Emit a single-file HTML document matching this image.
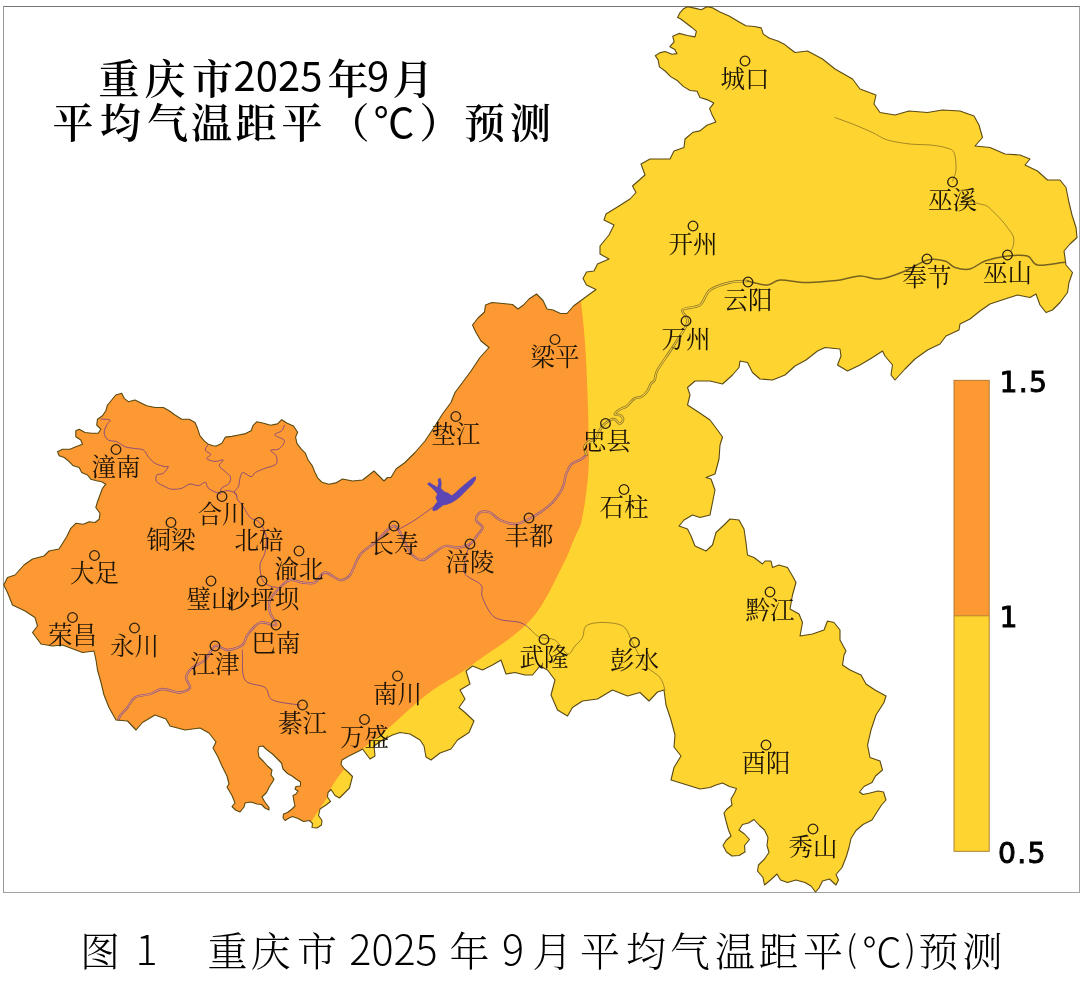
<!DOCTYPE html>
<html lang="zh-CN"><head><meta charset="utf-8"><title>重庆市2025年9月平均气温距平预测</title>
<style>
html,body{margin:0;padding:0;background:#fff;}
body{width:1080px;height:991px;position:relative;overflow:hidden;font-family:"Liberation Sans","Noto Serif CJK SC",serif;}
.frame{position:absolute;left:3px;top:6px;width:1077px;height:887px;border:1px solid #a2a2a2;box-sizing:border-box;border-top-color:#777;border-left-color:#999}
.t{position:absolute;white-space:nowrap;color:#000;line-height:1}
.t span{position:absolute;display:block;text-align:center;line-height:1}
.kai{font-family:"Liberation Serif","Noto Serif CJK SC",serif;}
.num{font-family:"Liberation Sans",sans-serif;}
</style></head><body>
<div class="frame"></div>
<svg width="1080" height="991" viewBox="0 0 1080 991" style="position:absolute;left:0;top:0">
<defs><clipPath id="cq"><polygon points="3.75,585 7.5,577.5 15,575 24,565 32.5,559 44,556 49,551 59,549 66.7,536.7 70.8,528.3 75.8,523.3 83.3,524.2 89.2,521.7 95,522.5 99.2,519.2 100,513.3 95.8,507.5 97.5,501.7 100,495 102.5,488.3 105.8,484.2 101.7,481.7 96.7,480.8 90.8,479.2 87.5,475 81.7,472.5 79.2,467.5 73.3,465.8 69.2,461.7 64.2,457.5 59.2,455.8 57.5,451.7 62.5,449.2 70,449.2 75.8,446.7 82.5,444.2 80.8,440 75.8,436.7 75.8,430.8 79.2,429.2 85,432.5 91.7,433.3 98.3,433.3 100.8,429.2 96.7,425 97.5,419.2 102.5,415.8 105.8,410.8 107.5,405 111.7,400 115.8,395 121.7,393.3 124.2,398.3 128.3,401.7 135,400 140,402.5 146.7,405.8 155,407.5 163.3,407.5 169.2,410.8 175,415 181.7,419.2 189.2,419.2 195,422.5 197.5,428.3 200,435.8 204.2,440.8 208.3,444.2 213.3,445.8 216.4,446.1 221.9,443.3 225.4,437.1 231.7,436.4 238.6,435 245.6,433.6 251.1,430.8 253.2,425.3 256.7,421.8 263.6,423.2 270.6,425.3 277.5,423.9 281.7,419.7 287.2,423.2 293.5,426 297.6,432.2 295.6,437.1 296.9,443.3 301.1,448.9 305.3,453.1 308.1,460 312.2,465.6 315,472.5 317.8,478.1 321.9,482.2 328.9,484.3 335.8,482.9 342.5,479 352.5,481 362.5,480 369,475 374,471 379,476 384,481 387.5,477.5 391,477.5 396,469 405,462.5 415,452.5 425,441 434,427.5 442.5,414 451,402.5 455,392.5 462.5,382.5 471,371 480,357.5 489,347.5 481,341 476,332.5 472.5,325 478,318 484.5,312 485.5,305 492,302.5 503,303.5 512.5,304.5 518,309 523.5,305 529,299 536.5,294 543,300.5 547,309 553,310 560.5,313.5 567,313.5 573.5,306 581,300.5 588.5,295 596,289.5 586.5,285 583,278.5 586.5,272 594,271 597.5,264 609,259 600,254 600,246 609,235 614,225 604,220 606,214 619,206 630,199 636,192.5 632.5,186 645,175 641,164 650,159 670,159 674,151 684,147.5 685,139 692.9,132.3 699.9,130.9 706.9,125.3 715.9,121.9 712.4,115.6 709.6,108.6 713.8,103.1 706.9,99.6 699.9,97.5 697.1,91.2 690.1,90.5 683.2,86.4 677.6,80.8 670.6,76.6 665.1,71 659.5,66.9 658.1,59.9 655.3,55.7 659.5,52.9 665.1,51.5 672,54.3 676.9,53.6 674.8,49.4 669.9,46.7 674.1,41.8 672.7,36.2 679,33.4 687.4,35.5 695,36.9 696.4,31.3 691.5,27.2 686,23 680.4,18.8 677.6,17.4 679.7,13.2 683.2,9.1 687.4,6.7 695.7,8.4 701.3,9.7 706.9,6.7 712.4,7.7 719.4,11.8 729.1,16 737.5,20.9 745.8,25.8 754.2,26.5 761.2,27.9 763.3,34.1 769.5,38.3 777.9,41.1 784.8,44.6 790,48.7 795,52.5 807.5,51 822.5,59 835,69 852.5,79 860,89 876,95 874,104 880,112.5 895,115 909,111 927.5,112.5 942.5,110 960,111 974,116 979,125 982.5,137.5 975,146 990,147.5 1005,154 1020,155 1030,159 1025,165 1037.5,171 1047.5,180 1060,180 1066,187.5 1069,202.5 1072,215 1076,227.5 1077,237.5 1070,244 1064,251 1066,265 1072.5,272.5 1069,282.5 1067.5,292.5 1060,302.5 1052.5,310 1046,312.5 1040,305 1036,294 1030,297.5 1017.5,295 1005,299 990,304 980,311 970,319 960,324 959,330 946,336 940,344 927.5,350 915,359 905,369 895,380 891,375 892.5,365 885,356 882.5,351 872.5,357.5 860,365 847.5,371 837.5,365 841,356 840,349 825,347.5 817.5,351 806,360 795,366 785,375 772.5,380 760,379 752.5,372.5 747.5,362.5 740,361 739,367.5 732.5,375 722.5,384 710,381 695,381 687.5,387.5 690,395 687.5,405 699,412.5 710,420 717.5,430 722.5,437 720,445 719,459 715,474 706,477.5 711,479 715,490 712.5,502.5 710,515 700,517.5 692.5,515 684,520 679,526 687.5,529 691,536 695,546 706,551 712.5,545 716,532.5 724,525 730,519 739,520 744,529 746,542.5 747.5,555 754,557.5 762.5,564 765,561 771,561 772.5,567.5 779,565 787.5,567.5 792.5,576 796,582.5 792.5,595 790,609 799,614 802.5,622.5 800,636 812.5,634 824,630 827.5,621 834,622.5 840,630 840,640 846,651 844,655 842.5,665 850,670 861,675 866,684 875,690 886,696 884,702.5 876,715 871,730 867.5,745 870,757.5 880,761 882.5,770 875.5,776 872,782.5 864,786.5 859.5,792 863,794.5 870,793 878,791 883.5,792 886,800 881.5,805 877,812 872,820 863,824.5 856,830.5 851,838.5 849,847.5 846.5,856 842,867.5 836,874.5 838.5,880 836,885 829.5,879 822.5,881 819,888 815.5,892 811,886 805,882.5 796,880 787.5,882.5 780.5,880 777,874 770.5,880 764.5,885 763,877.5 757.5,871 758.5,865 764.5,859 769,852.5 767,845.5 768,837.5 764.5,830 759.5,825.5 754,819.5 748.5,823 742.5,824.5 739,830 744.5,834 749.5,839.5 744.5,845.5 745,852 739,855.5 732,856 726.5,852 723,845.5 726,840.5 731,836 728.5,830 726,821 724,813 726.5,809.5 732,805 731,799 734.5,793 736.5,788.5 729.5,786.5 722.5,783 716,785 710,787.5 700,789 684,784 671,780 674,767.5 681,756 674,747 675,735 671,720 666,705 664,690 657.5,692 649,701 640,692.5 627.5,696 612.5,690 597.5,699 582.5,701 572.5,707.5 567.5,716 557.5,710 551,695 555,680 547.5,670 540,666 532.5,675 525,675 515,672.5 506,674 501,660 492.5,665 482.5,670 472.5,666 466,671 470,684 460,690 465,699 459,707.5 465,712.5 474,721 469,732.5 457.5,740 451,749 440,753 431,760 426,757 424,746 420,740 410,734 400,732.5 392.5,735 382.5,740 374,746 375,756 370,759 362.5,749 360,750.5 354,753.5 348,756.5 342,760 341,764.5 344.5,769 348,772 352.5,776.5 351,782 349.5,788 345,792.5 339.5,798 335,795.5 331,789.5 328,792.5 327.5,797 330.5,801.5 326,805 320,809 318.5,815.5 322,820.5 321.5,825 317,828 312,827.5 312.5,823.5 309.5,820.5 303.5,821.5 298,818.5 292.5,816.5 289,818 285,820.5 283,818 283.5,814 287.5,812.5 292,809 295,806 294,801.5 293,795.5 296,794 298,791 295,789 296,786.5 300.5,786 300.5,782 296,779 292,776 287.5,773.5 283,769 281.5,763 277,758.5 272.5,754 266.5,749.5 263,746 259,746.5 258,751 259,757 263.5,761.5 267.5,766 272,770 271,775 274,779 272.5,782 269.5,786.5 266.5,792.5 262,797 264.5,801.5 269,807.5 269,810 265,808 261.5,804.5 257,804 251,802 245,803 244,807 240,812 235.5,810 232,806.5 235,803 232,795.5 227,787 229,784 227,776 222,766 218,757 213,748 216,742 209,733 200,728 185,730 170,726 166,719 155,715 142.5,722.5 136,730 127.5,721 116,720 109,707.5 104,695 101,682.5 97.5,670 96,660 94,651 82.5,652.5 62.5,645 52.5,646 41,644 32.5,632.5 37.5,626 35,617.5 25,611 12.5,605 7.5,592.5"/></clipPath></defs>
<polygon points="3.75,585 7.5,577.5 15,575 24,565 32.5,559 44,556 49,551 59,549 66.7,536.7 70.8,528.3 75.8,523.3 83.3,524.2 89.2,521.7 95,522.5 99.2,519.2 100,513.3 95.8,507.5 97.5,501.7 100,495 102.5,488.3 105.8,484.2 101.7,481.7 96.7,480.8 90.8,479.2 87.5,475 81.7,472.5 79.2,467.5 73.3,465.8 69.2,461.7 64.2,457.5 59.2,455.8 57.5,451.7 62.5,449.2 70,449.2 75.8,446.7 82.5,444.2 80.8,440 75.8,436.7 75.8,430.8 79.2,429.2 85,432.5 91.7,433.3 98.3,433.3 100.8,429.2 96.7,425 97.5,419.2 102.5,415.8 105.8,410.8 107.5,405 111.7,400 115.8,395 121.7,393.3 124.2,398.3 128.3,401.7 135,400 140,402.5 146.7,405.8 155,407.5 163.3,407.5 169.2,410.8 175,415 181.7,419.2 189.2,419.2 195,422.5 197.5,428.3 200,435.8 204.2,440.8 208.3,444.2 213.3,445.8 216.4,446.1 221.9,443.3 225.4,437.1 231.7,436.4 238.6,435 245.6,433.6 251.1,430.8 253.2,425.3 256.7,421.8 263.6,423.2 270.6,425.3 277.5,423.9 281.7,419.7 287.2,423.2 293.5,426 297.6,432.2 295.6,437.1 296.9,443.3 301.1,448.9 305.3,453.1 308.1,460 312.2,465.6 315,472.5 317.8,478.1 321.9,482.2 328.9,484.3 335.8,482.9 342.5,479 352.5,481 362.5,480 369,475 374,471 379,476 384,481 387.5,477.5 391,477.5 396,469 405,462.5 415,452.5 425,441 434,427.5 442.5,414 451,402.5 455,392.5 462.5,382.5 471,371 480,357.5 489,347.5 481,341 476,332.5 472.5,325 478,318 484.5,312 485.5,305 492,302.5 503,303.5 512.5,304.5 518,309 523.5,305 529,299 536.5,294 543,300.5 547,309 553,310 560.5,313.5 567,313.5 573.5,306 581,300.5 588.5,295 596,289.5 586.5,285 583,278.5 586.5,272 594,271 597.5,264 609,259 600,254 600,246 609,235 614,225 604,220 606,214 619,206 630,199 636,192.5 632.5,186 645,175 641,164 650,159 670,159 674,151 684,147.5 685,139 692.9,132.3 699.9,130.9 706.9,125.3 715.9,121.9 712.4,115.6 709.6,108.6 713.8,103.1 706.9,99.6 699.9,97.5 697.1,91.2 690.1,90.5 683.2,86.4 677.6,80.8 670.6,76.6 665.1,71 659.5,66.9 658.1,59.9 655.3,55.7 659.5,52.9 665.1,51.5 672,54.3 676.9,53.6 674.8,49.4 669.9,46.7 674.1,41.8 672.7,36.2 679,33.4 687.4,35.5 695,36.9 696.4,31.3 691.5,27.2 686,23 680.4,18.8 677.6,17.4 679.7,13.2 683.2,9.1 687.4,6.7 695.7,8.4 701.3,9.7 706.9,6.7 712.4,7.7 719.4,11.8 729.1,16 737.5,20.9 745.8,25.8 754.2,26.5 761.2,27.9 763.3,34.1 769.5,38.3 777.9,41.1 784.8,44.6 790,48.7 795,52.5 807.5,51 822.5,59 835,69 852.5,79 860,89 876,95 874,104 880,112.5 895,115 909,111 927.5,112.5 942.5,110 960,111 974,116 979,125 982.5,137.5 975,146 990,147.5 1005,154 1020,155 1030,159 1025,165 1037.5,171 1047.5,180 1060,180 1066,187.5 1069,202.5 1072,215 1076,227.5 1077,237.5 1070,244 1064,251 1066,265 1072.5,272.5 1069,282.5 1067.5,292.5 1060,302.5 1052.5,310 1046,312.5 1040,305 1036,294 1030,297.5 1017.5,295 1005,299 990,304 980,311 970,319 960,324 959,330 946,336 940,344 927.5,350 915,359 905,369 895,380 891,375 892.5,365 885,356 882.5,351 872.5,357.5 860,365 847.5,371 837.5,365 841,356 840,349 825,347.5 817.5,351 806,360 795,366 785,375 772.5,380 760,379 752.5,372.5 747.5,362.5 740,361 739,367.5 732.5,375 722.5,384 710,381 695,381 687.5,387.5 690,395 687.5,405 699,412.5 710,420 717.5,430 722.5,437 720,445 719,459 715,474 706,477.5 711,479 715,490 712.5,502.5 710,515 700,517.5 692.5,515 684,520 679,526 687.5,529 691,536 695,546 706,551 712.5,545 716,532.5 724,525 730,519 739,520 744,529 746,542.5 747.5,555 754,557.5 762.5,564 765,561 771,561 772.5,567.5 779,565 787.5,567.5 792.5,576 796,582.5 792.5,595 790,609 799,614 802.5,622.5 800,636 812.5,634 824,630 827.5,621 834,622.5 840,630 840,640 846,651 844,655 842.5,665 850,670 861,675 866,684 875,690 886,696 884,702.5 876,715 871,730 867.5,745 870,757.5 880,761 882.5,770 875.5,776 872,782.5 864,786.5 859.5,792 863,794.5 870,793 878,791 883.5,792 886,800 881.5,805 877,812 872,820 863,824.5 856,830.5 851,838.5 849,847.5 846.5,856 842,867.5 836,874.5 838.5,880 836,885 829.5,879 822.5,881 819,888 815.5,892 811,886 805,882.5 796,880 787.5,882.5 780.5,880 777,874 770.5,880 764.5,885 763,877.5 757.5,871 758.5,865 764.5,859 769,852.5 767,845.5 768,837.5 764.5,830 759.5,825.5 754,819.5 748.5,823 742.5,824.5 739,830 744.5,834 749.5,839.5 744.5,845.5 745,852 739,855.5 732,856 726.5,852 723,845.5 726,840.5 731,836 728.5,830 726,821 724,813 726.5,809.5 732,805 731,799 734.5,793 736.5,788.5 729.5,786.5 722.5,783 716,785 710,787.5 700,789 684,784 671,780 674,767.5 681,756 674,747 675,735 671,720 666,705 664,690 657.5,692 649,701 640,692.5 627.5,696 612.5,690 597.5,699 582.5,701 572.5,707.5 567.5,716 557.5,710 551,695 555,680 547.5,670 540,666 532.5,675 525,675 515,672.5 506,674 501,660 492.5,665 482.5,670 472.5,666 466,671 470,684 460,690 465,699 459,707.5 465,712.5 474,721 469,732.5 457.5,740 451,749 440,753 431,760 426,757 424,746 420,740 410,734 400,732.5 392.5,735 382.5,740 374,746 375,756 370,759 362.5,749 360,750.5 354,753.5 348,756.5 342,760 341,764.5 344.5,769 348,772 352.5,776.5 351,782 349.5,788 345,792.5 339.5,798 335,795.5 331,789.5 328,792.5 327.5,797 330.5,801.5 326,805 320,809 318.5,815.5 322,820.5 321.5,825 317,828 312,827.5 312.5,823.5 309.5,820.5 303.5,821.5 298,818.5 292.5,816.5 289,818 285,820.5 283,818 283.5,814 287.5,812.5 292,809 295,806 294,801.5 293,795.5 296,794 298,791 295,789 296,786.5 300.5,786 300.5,782 296,779 292,776 287.5,773.5 283,769 281.5,763 277,758.5 272.5,754 266.5,749.5 263,746 259,746.5 258,751 259,757 263.5,761.5 267.5,766 272,770 271,775 274,779 272.5,782 269.5,786.5 266.5,792.5 262,797 264.5,801.5 269,807.5 269,810 265,808 261.5,804.5 257,804 251,802 245,803 244,807 240,812 235.5,810 232,806.5 235,803 232,795.5 227,787 229,784 227,776 222,766 218,757 213,748 216,742 209,733 200,728 185,730 170,726 166,719 155,715 142.5,722.5 136,730 127.5,721 116,720 109,707.5 104,695 101,682.5 97.5,670 96,660 94,651 82.5,652.5 62.5,645 52.5,646 41,644 32.5,632.5 37.5,626 35,617.5 25,611 12.5,605 7.5,592.5" fill="#FED430"/>
<path clip-path="url(#cq)" fill="#FD9932" d="M578.0,290.0 C578.5,292.2 580.1,297.2 581.0,303.0 C581.9,308.8 582.8,317.2 583.5,325.0 C584.2,332.8 584.9,340.7 585.5,350.0 C586.1,359.3 586.6,371.2 587.0,381.0 C587.4,390.8 587.7,400.0 588.0,409.0 C588.3,418.0 588.4,427.3 588.6,435.0 C588.8,442.7 589.0,449.2 589.0,455.0 C589.0,460.8 588.8,464.8 588.5,470.0 C588.2,475.2 587.7,480.2 587.0,486.0 C586.3,491.8 585.4,499.3 584.5,505.0 C583.6,510.7 582.5,516.3 581.7,520.0 C580.9,523.7 581.0,524.0 579.8,527.0 C578.6,530.0 576.5,533.3 574.4,538.2 C572.3,543.1 569.8,550.2 567.1,556.3 C564.4,562.3 561.0,568.5 558.0,574.5 C555.0,580.5 552.3,586.6 549.0,592.6 C545.7,598.6 541.9,605.3 538.0,610.8 C534.1,616.2 529.6,621.1 525.4,625.3 C521.2,629.5 517.8,632.2 512.6,636.2 C507.5,640.2 500.6,644.8 494.5,649.0 C488.4,653.2 482.4,657.5 476.3,661.7 C470.2,665.9 464.2,670.5 458.2,674.4 C452.1,678.3 446.4,681.0 440.0,685.3 C433.6,689.6 428.8,692.7 420.0,700.0 C411.2,707.3 395.5,722.2 387.5,729.0 C379.5,735.8 376.6,737.2 372.0,741.0 C367.4,744.8 365.0,746.8 360.0,752.0 C355.0,757.2 346.7,766.2 342.0,772.0 C337.3,777.8 334.4,782.3 332.0,786.5 C329.6,790.7 329.2,793.8 327.5,797.0 C325.8,800.2 323.5,803.0 321.5,806.0 C319.5,809.0 317.2,812.3 315.5,815.0 C313.8,817.7 313.6,817.8 311.0,822.0 C308.4,826.2 301.8,837.0 300.0,840.0 L0,845 L0,290 Z"/>
<g clip-path="url(#cq)" fill="none" stroke-linejoin="round" stroke-linecap="round">
<path d="M118.0,722.0 C118.3,721.0 118.4,718.4 120.0,716.0 C121.6,713.6 125.0,710.6 127.5,707.5 C130.0,704.4 131.2,699.8 135.0,697.5 C138.8,695.2 145.4,695.4 150.0,694.0 C154.6,692.6 157.5,689.2 162.5,689.0 C167.5,688.8 175.4,692.8 180.0,692.5 C184.6,692.2 189.0,690.0 190.0,687.5 C191.0,685.0 185.6,680.8 186.0,677.5 C186.4,674.2 189.3,670.4 192.5,667.5 C195.7,664.6 201.2,663.6 205.0,660.0 C208.8,656.4 211.2,647.7 215.0,646.0 C218.8,644.3 222.9,650.2 227.5,650.0 C232.1,649.8 239.2,647.5 242.5,645.0 C245.8,642.5 244.6,638.8 247.5,635.0 C250.4,631.2 255.2,624.2 260.0,622.5 C264.8,620.8 274.3,626.7 276.0,625.0 C277.7,623.3 271.0,616.7 270.0,612.5 C269.0,608.3 268.3,604.2 270.0,600.0 C271.7,595.8 276.7,590.8 280.0,587.5 C283.3,584.2 286.2,580.8 290.0,580.0 C293.8,579.2 298.3,582.1 302.5,582.5 C306.7,582.9 311.2,584.2 315.0,582.5 C318.8,580.8 320.8,572.9 325.0,572.5 C329.2,572.1 335.8,579.6 340.0,580.0 C344.2,580.4 346.7,579.2 350.0,575.0 C353.3,570.8 355.8,560.4 360.0,555.0 C364.2,549.6 369.3,547.3 375.0,542.5 C380.7,537.7 389.0,526.0 394.0,526.0 C399.0,526.0 401.9,537.7 405.0,542.5 C408.1,547.3 409.6,552.1 412.5,555.0 C415.4,557.9 419.2,560.2 422.5,560.0 C425.8,559.8 428.8,556.3 432.5,554.0 C436.2,551.7 440.8,547.1 445.0,546.0 C449.2,544.9 453.3,547.8 457.5,547.5 C461.7,547.2 466.7,546.1 470.0,544.0 C473.3,541.9 475.4,537.8 477.5,535.0 C479.6,532.2 482.8,530.0 482.5,527.5 C482.2,525.0 476.4,522.5 476.0,520.0 C475.6,517.5 477.7,513.8 480.0,512.5 C482.3,511.2 486.7,511.2 490.0,512.5 C493.3,513.8 495.8,518.1 500.0,520.0 C504.2,521.9 510.2,524.2 515.0,524.0 C519.8,523.8 524.8,520.9 529.0,519.0 C533.2,517.1 536.1,515.2 540.0,512.5 C543.9,509.8 549.1,505.9 552.5,502.5 C555.9,499.1 558.5,495.1 560.4,492.0 C562.3,488.9 563.1,486.6 564.0,483.6 C564.9,480.7 564.7,477.6 566.0,474.3 C567.3,471.0 569.1,466.5 571.6,464.0 C574.1,461.5 578.4,460.9 580.9,459.4 C583.4,457.9 585.5,455.6 586.4,454.8" stroke="#7a4a90" stroke-opacity=".85" stroke-width="2.3"/>
<path d="M118.0,722.0 C118.3,721.0 118.4,718.4 120.0,716.0 C121.6,713.6 125.0,710.6 127.5,707.5 C130.0,704.4 131.2,699.8 135.0,697.5 C138.8,695.2 145.4,695.4 150.0,694.0 C154.6,692.6 157.5,689.2 162.5,689.0 C167.5,688.8 175.4,692.8 180.0,692.5 C184.6,692.2 189.0,690.0 190.0,687.5 C191.0,685.0 185.6,680.8 186.0,677.5 C186.4,674.2 189.3,670.4 192.5,667.5 C195.7,664.6 201.2,663.6 205.0,660.0 C208.8,656.4 211.2,647.7 215.0,646.0 C218.8,644.3 222.9,650.2 227.5,650.0 C232.1,649.8 239.2,647.5 242.5,645.0 C245.8,642.5 244.6,638.8 247.5,635.0 C250.4,631.2 255.2,624.2 260.0,622.5 C264.8,620.8 274.3,626.7 276.0,625.0 C277.7,623.3 271.0,616.7 270.0,612.5 C269.0,608.3 268.3,604.2 270.0,600.0 C271.7,595.8 276.7,590.8 280.0,587.5 C283.3,584.2 286.2,580.8 290.0,580.0 C293.8,579.2 298.3,582.1 302.5,582.5 C306.7,582.9 311.2,584.2 315.0,582.5 C318.8,580.8 320.8,572.9 325.0,572.5 C329.2,572.1 335.8,579.6 340.0,580.0 C344.2,580.4 346.7,579.2 350.0,575.0 C353.3,570.8 355.8,560.4 360.0,555.0 C364.2,549.6 369.3,547.3 375.0,542.5 C380.7,537.7 389.0,526.0 394.0,526.0 C399.0,526.0 401.9,537.7 405.0,542.5 C408.1,547.3 409.6,552.1 412.5,555.0 C415.4,557.9 419.2,560.2 422.5,560.0 C425.8,559.8 428.8,556.3 432.5,554.0 C436.2,551.7 440.8,547.1 445.0,546.0 C449.2,544.9 453.3,547.8 457.5,547.5 C461.7,547.2 466.7,546.1 470.0,544.0 C473.3,541.9 475.4,537.8 477.5,535.0 C479.6,532.2 482.8,530.0 482.5,527.5 C482.2,525.0 476.4,522.5 476.0,520.0 C475.6,517.5 477.7,513.8 480.0,512.5 C482.3,511.2 486.7,511.2 490.0,512.5 C493.3,513.8 495.8,518.1 500.0,520.0 C504.2,521.9 510.2,524.2 515.0,524.0 C519.8,523.8 524.8,520.9 529.0,519.0 C533.2,517.1 536.1,515.2 540.0,512.5 C543.9,509.8 549.1,505.9 552.5,502.5 C555.9,499.1 558.5,495.1 560.4,492.0 C562.3,488.9 563.1,486.6 564.0,483.6 C564.9,480.7 564.7,477.6 566.0,474.3 C567.3,471.0 569.1,466.5 571.6,464.0 C574.1,461.5 578.4,460.9 580.9,459.4 C583.4,457.9 585.5,455.6 586.4,454.8" stroke="#f59a5a" stroke-width="1"/>
<path d="M586.4,454.8 C586.1,453.4 584.0,448.7 584.6,446.4 C585.2,444.1 588.1,442.2 590.0,441.0 C591.9,439.8 594.1,440.7 595.7,439.0 C597.3,437.3 597.8,433.2 599.4,430.6 C601.0,428.0 603.1,425.0 605.5,423.1 C607.9,421.2 611.6,418.9 613.9,419.0 C616.2,419.1 617.9,423.5 619.4,423.6 C620.9,423.8 622.9,421.3 623.1,419.9 C623.3,418.5 621.8,416.2 620.4,415.3 C619.0,414.4 615.0,415.3 614.8,414.4 C614.6,413.5 617.4,411.1 619.4,409.7 C621.4,408.3 624.4,407.9 626.9,406.0 C629.4,404.1 631.8,400.2 634.3,398.6 C636.8,397.1 639.5,397.9 641.7,396.7 C643.9,395.4 645.8,393.3 647.3,391.1 C648.8,388.9 649.8,385.6 651.0,383.7 C652.2,381.8 653.6,382.3 654.7,380.0 C655.8,377.7 654.5,375.4 657.5,370.0 C660.5,364.6 667.5,355.4 672.5,347.5 C677.5,339.6 685.8,328.8 687.5,322.5 C689.2,316.2 680.4,312.9 682.5,310.0 C684.6,307.1 695.4,308.3 700.0,305.0 C704.6,301.7 705.0,293.8 710.0,290.0 C715.0,286.2 723.8,284.0 730.0,282.5 C736.2,281.0 744.6,281.2 747.5,281.0" stroke="#6e5e22" stroke-opacity=".85" stroke-width="2.5"/>
<path d="M586.4,454.8 C586.1,453.4 584.0,448.7 584.6,446.4 C585.2,444.1 588.1,442.2 590.0,441.0 C591.9,439.8 594.1,440.7 595.7,439.0 C597.3,437.3 597.8,433.2 599.4,430.6 C601.0,428.0 603.1,425.0 605.5,423.1 C607.9,421.2 611.6,418.9 613.9,419.0 C616.2,419.1 617.9,423.5 619.4,423.6 C620.9,423.8 622.9,421.3 623.1,419.9 C623.3,418.5 621.8,416.2 620.4,415.3 C619.0,414.4 615.0,415.3 614.8,414.4 C614.6,413.5 617.4,411.1 619.4,409.7 C621.4,408.3 624.4,407.9 626.9,406.0 C629.4,404.1 631.8,400.2 634.3,398.6 C636.8,397.1 639.5,397.9 641.7,396.7 C643.9,395.4 645.8,393.3 647.3,391.1 C648.8,388.9 649.8,385.6 651.0,383.7 C652.2,381.8 653.6,382.3 654.7,380.0 C655.8,377.7 654.5,375.4 657.5,370.0 C660.5,364.6 667.5,355.4 672.5,347.5 C677.5,339.6 685.8,328.8 687.5,322.5 C689.2,316.2 680.4,312.9 682.5,310.0 C684.6,307.1 695.4,308.3 700.0,305.0 C704.6,301.7 705.0,293.8 710.0,290.0 C715.0,286.2 723.8,284.0 730.0,282.5 C736.2,281.0 744.6,281.2 747.5,281.0" stroke="#f4cc3c" stroke-width="1.1"/>
<path d="M747.5,281.0 C750.8,281.7 762.1,285.2 767.5,285.0 C772.9,284.8 773.8,280.4 780.0,280.0 C786.2,279.6 796.7,282.3 805.0,282.5 C813.3,282.7 824.2,281.4 830.0,281.0 C835.8,280.6 835.0,280.8 840.0,280.0 C845.0,279.2 853.3,276.2 860.0,276.0 C866.7,275.8 872.5,279.8 880.0,279.0 C887.5,278.2 897.1,274.2 905.0,271.0 C912.9,267.8 920.8,261.7 927.5,260.0 C934.2,258.3 940.4,259.8 945.0,261.0 C949.6,262.2 950.8,266.2 955.0,267.5 C959.2,268.8 965.0,270.1 970.0,269.0 C975.0,267.9 978.8,263.2 985.0,261.0 C991.2,258.8 1000.4,256.8 1007.5,256.0 C1014.6,255.2 1022.5,254.5 1027.5,256.0 C1032.5,257.5 1031.7,263.9 1037.5,265.0 C1043.3,266.1 1057.4,263.0 1062.5,262.5 C1067.6,262.0 1067.1,262.1 1068.0,262.0" stroke="#5e4e1c" stroke-opacity=".85" stroke-width="1.5"/>
<path d="M208.0,444.7 C207.6,445.6 204.8,448.7 205.3,450.3 C205.8,451.9 210.6,453.0 210.8,454.4 C211.0,455.8 206.0,457.4 206.7,458.6 C207.4,459.8 212.2,461.2 215.0,461.4 C217.8,461.6 222.6,459.3 223.3,460.0 C224.0,460.7 219.0,463.8 219.2,465.6 C219.4,467.5 222.8,469.2 224.7,471.1 C226.5,473.0 229.6,474.6 230.3,476.7 C231.0,478.8 230.3,481.8 228.9,483.6 C227.5,485.5 223.2,486.4 221.9,487.8 C220.6,489.2 220.1,491.5 221.0,492.0 C221.9,492.5 225.0,490.4 227.5,490.6 C230.0,490.8 234.2,491.9 235.8,493.3 C237.4,494.7 236.0,496.8 237.2,498.9 C238.4,501.0 241.2,503.5 242.8,505.8 C244.4,508.1 245.5,510.7 246.9,512.8 C248.3,514.9 249.1,516.8 251.1,518.3 C253.1,519.8 256.3,519.0 258.8,521.8 C261.2,524.6 265.0,529.9 266.0,535.0 C267.0,540.1 266.0,547.5 265.0,552.5 C264.0,557.5 260.4,560.4 260.0,565.0 C259.6,569.6 260.8,576.5 262.5,580.0 C264.2,583.5 267.5,584.8 270.0,586.0 C272.5,587.2 276.2,587.2 277.5,587.5" stroke="#7c4282" stroke-opacity=".85" stroke-width="1"/>
<path d="M100.8,419.2 C102.3,419.3 109.0,419.0 110.0,420.0 C111.0,421.0 107.7,422.8 106.7,425.0 C105.7,427.2 103.9,430.8 104.2,433.3 C104.5,435.8 106.2,438.6 108.3,440.0 C110.4,441.4 113.9,440.6 116.7,441.7 C119.5,442.8 122.2,445.6 125.0,446.7 C127.8,447.8 130.2,447.8 133.3,448.3 C136.4,448.9 140.8,448.6 143.3,450.0 C145.8,451.4 146.4,454.5 148.3,456.7 C150.2,458.9 152.2,461.6 155.0,463.3 C157.8,465.0 162.8,466.1 165.0,466.7 C167.2,467.3 168.6,465.6 168.3,466.7 C168.0,467.8 165.2,471.9 163.3,473.3 C161.4,474.7 157.8,473.6 156.7,475.0 C155.6,476.4 155.3,479.8 156.7,481.7 C158.1,483.6 162.5,485.4 165.0,486.7 C167.5,487.9 168.9,488.9 171.7,489.2 C174.5,489.5 178.6,489.2 181.7,488.3 C184.8,487.4 187.2,484.4 190.0,484.0 C192.8,483.6 195.8,486.0 198.3,485.7 C200.9,485.4 203.7,481.8 205.3,482.2 C206.9,482.6 206.4,486.2 208.0,487.8 C209.6,489.4 212.8,490.9 215.0,491.9 C217.2,492.9 220.0,493.6 221.0,494.0" stroke="#7c4282" stroke-opacity=".85" stroke-width="1"/>
<path d="M284.4,425.3 C283.9,426.2 283.3,429.2 281.7,430.8 C280.1,432.4 274.2,433.4 274.7,435.0 C275.1,436.6 283.7,438.3 284.4,440.6 C285.1,442.9 281.2,447.3 278.9,448.9 C276.6,450.5 271.1,449.1 270.6,450.3 C270.1,451.5 275.2,453.5 276.1,455.8 C277.0,458.1 278.0,462.1 276.1,464.2 C274.2,466.3 268.5,466.9 265.0,468.3 C261.5,469.7 257.6,471.1 255.3,472.5 C253.0,473.9 253.2,476.7 251.1,476.7 C249.0,476.7 244.7,472.3 242.8,472.5 C241.0,472.7 240.7,475.8 240.0,478.1 C239.3,480.4 239.5,484.1 238.6,486.4 C237.7,488.7 234.6,490.3 234.4,491.9 C234.2,493.5 236.7,495.4 237.2,496.1" stroke="#7c4282" stroke-opacity=".85" stroke-width="1"/>
<path d="M242.5,650.0 C242.5,650.8 242.1,650.0 242.5,655.0 C242.9,660.0 241.2,674.6 245.0,680.0 C248.8,685.4 260.4,684.2 265.0,687.5 C269.6,690.8 266.7,697.1 272.5,700.0 C278.3,702.9 295.4,704.2 300.0,705.0" stroke="#7c4282" stroke-opacity=".85" stroke-width="1"/>
<path d="M397.5,530.0 C400.4,528.3 409.2,523.8 415.0,520.0 C420.8,516.2 428.3,510.3 432.5,507.5 C436.7,504.7 438.8,503.8 440.0,503.0" stroke="#7c4282" stroke-opacity=".85" stroke-width="1"/>
<path d="M470.0,544.0 C469.2,546.7 465.8,555.0 465.0,560.0 C464.2,565.0 462.3,569.8 465.0,574.0 C467.7,578.2 478.1,581.1 481.0,585.0 C483.9,588.9 480.2,592.1 482.5,597.5 C484.8,602.9 488.8,613.3 495.0,617.5 C501.2,621.7 514.2,620.6 520.0,622.5 C525.8,624.4 528.3,627.9 530.0,629.0" stroke="#7c4282" stroke-opacity=".85" stroke-width="1"/>
<path d="M530.0,629.0 C531.7,630.4 535.8,635.7 540.0,637.5 C544.2,639.3 550.4,637.2 555.0,640.0 C559.6,642.8 564.2,653.0 567.5,654.0 C570.8,655.0 572.5,648.8 575.0,646.0 C577.5,643.2 580.7,640.8 582.5,637.5 C584.3,634.2 583.1,628.5 586.0,626.0 C588.9,623.5 594.8,622.8 600.0,622.5 C605.2,622.2 613.2,622.9 617.5,624.0 C621.8,625.1 623.5,625.9 626.0,629.0 C628.5,632.1 629.3,636.5 632.5,642.5 C635.7,648.5 640.4,659.2 645.0,665.0 C649.6,670.8 656.7,673.3 660.0,677.5 C663.3,681.7 664.2,687.9 665.0,690.0" stroke="#5e4e1c" stroke-opacity=".7" stroke-width=".8"/>
<path d="M835.0,117.5 C838.3,118.8 848.8,122.5 855.0,125.0 C861.2,127.5 867.1,130.0 872.5,132.5 C877.9,135.0 881.2,138.1 887.5,140.0 C893.8,141.9 902.9,143.2 910.0,144.0 C917.1,144.8 924.2,144.4 930.0,145.0 C935.8,145.6 941.0,146.2 945.0,147.5 C949.0,148.8 952.2,148.8 954.0,152.5 C955.8,156.2 956.2,165.2 956.0,170.0 C955.8,174.8 953.1,179.2 952.5,181.0" stroke="#5e4e1c" stroke-opacity=".7" stroke-width=".8"/>
<path d="M970.0,200.0 C971.4,200.6 975.5,202.7 978.2,203.6 C980.9,204.5 983.9,204.4 986.2,205.6 C988.6,206.8 989.9,208.5 992.3,210.7 C994.6,212.9 997.6,215.7 1000.3,218.7 C1003.0,221.7 1006.2,225.8 1008.4,228.8 C1010.6,231.8 1012.6,234.2 1013.4,236.9 C1014.2,239.6 1013.8,242.7 1013.4,245.0 C1013.0,247.3 1011.4,250.0 1011.0,251.0" stroke="#5e4e1c" stroke-opacity=".7" stroke-width=".8"/>
</g>
<polygon points="432.5,509.2 435,505 437.5,501.7 435.8,497.5 437.5,494.2 435,490.8 431.7,487.5 427.5,484.2 429.2,482.5 433.3,485 437.5,487.5 438.7,483.3 438,479.2 440.3,478.3 441.3,483.3 440.8,488.3 444.2,491.7 448.3,493.3 451.7,495.8 455,493.3 459.2,489.2 464.2,485 469.2,480.8 473.3,477.5 475.8,476.7 475.3,480 472.5,484.2 468.3,488.3 464.2,492.5 460,496.7 455.8,500 451.7,502.5 447.5,504.2 443.3,505 440,507.5 436.7,510 433.3,510.8" fill="#3f36cc" fill-opacity=".85" stroke="#4a3ab8" stroke-width=".5" stroke-linejoin="round"/>
<polygon points="3.75,585 7.5,577.5 15,575 24,565 32.5,559 44,556 49,551 59,549 66.7,536.7 70.8,528.3 75.8,523.3 83.3,524.2 89.2,521.7 95,522.5 99.2,519.2 100,513.3 95.8,507.5 97.5,501.7 100,495 102.5,488.3 105.8,484.2 101.7,481.7 96.7,480.8 90.8,479.2 87.5,475 81.7,472.5 79.2,467.5 73.3,465.8 69.2,461.7 64.2,457.5 59.2,455.8 57.5,451.7 62.5,449.2 70,449.2 75.8,446.7 82.5,444.2 80.8,440 75.8,436.7 75.8,430.8 79.2,429.2 85,432.5 91.7,433.3 98.3,433.3 100.8,429.2 96.7,425 97.5,419.2 102.5,415.8 105.8,410.8 107.5,405 111.7,400 115.8,395 121.7,393.3 124.2,398.3 128.3,401.7 135,400 140,402.5 146.7,405.8 155,407.5 163.3,407.5 169.2,410.8 175,415 181.7,419.2 189.2,419.2 195,422.5 197.5,428.3 200,435.8 204.2,440.8 208.3,444.2 213.3,445.8 216.4,446.1 221.9,443.3 225.4,437.1 231.7,436.4 238.6,435 245.6,433.6 251.1,430.8 253.2,425.3 256.7,421.8 263.6,423.2 270.6,425.3 277.5,423.9 281.7,419.7 287.2,423.2 293.5,426 297.6,432.2 295.6,437.1 296.9,443.3 301.1,448.9 305.3,453.1 308.1,460 312.2,465.6 315,472.5 317.8,478.1 321.9,482.2 328.9,484.3 335.8,482.9 342.5,479 352.5,481 362.5,480 369,475 374,471 379,476 384,481 387.5,477.5 391,477.5 396,469 405,462.5 415,452.5 425,441 434,427.5 442.5,414 451,402.5 455,392.5 462.5,382.5 471,371 480,357.5 489,347.5 481,341 476,332.5 472.5,325 478,318 484.5,312 485.5,305 492,302.5 503,303.5 512.5,304.5 518,309 523.5,305 529,299 536.5,294 543,300.5 547,309 553,310 560.5,313.5 567,313.5 573.5,306 581,300.5 588.5,295 596,289.5 586.5,285 583,278.5 586.5,272 594,271 597.5,264 609,259 600,254 600,246 609,235 614,225 604,220 606,214 619,206 630,199 636,192.5 632.5,186 645,175 641,164 650,159 670,159 674,151 684,147.5 685,139 692.9,132.3 699.9,130.9 706.9,125.3 715.9,121.9 712.4,115.6 709.6,108.6 713.8,103.1 706.9,99.6 699.9,97.5 697.1,91.2 690.1,90.5 683.2,86.4 677.6,80.8 670.6,76.6 665.1,71 659.5,66.9 658.1,59.9 655.3,55.7 659.5,52.9 665.1,51.5 672,54.3 676.9,53.6 674.8,49.4 669.9,46.7 674.1,41.8 672.7,36.2 679,33.4 687.4,35.5 695,36.9 696.4,31.3 691.5,27.2 686,23 680.4,18.8 677.6,17.4 679.7,13.2 683.2,9.1 687.4,6.7 695.7,8.4 701.3,9.7 706.9,6.7 712.4,7.7 719.4,11.8 729.1,16 737.5,20.9 745.8,25.8 754.2,26.5 761.2,27.9 763.3,34.1 769.5,38.3 777.9,41.1 784.8,44.6 790,48.7 795,52.5 807.5,51 822.5,59 835,69 852.5,79 860,89 876,95 874,104 880,112.5 895,115 909,111 927.5,112.5 942.5,110 960,111 974,116 979,125 982.5,137.5 975,146 990,147.5 1005,154 1020,155 1030,159 1025,165 1037.5,171 1047.5,180 1060,180 1066,187.5 1069,202.5 1072,215 1076,227.5 1077,237.5 1070,244 1064,251 1066,265 1072.5,272.5 1069,282.5 1067.5,292.5 1060,302.5 1052.5,310 1046,312.5 1040,305 1036,294 1030,297.5 1017.5,295 1005,299 990,304 980,311 970,319 960,324 959,330 946,336 940,344 927.5,350 915,359 905,369 895,380 891,375 892.5,365 885,356 882.5,351 872.5,357.5 860,365 847.5,371 837.5,365 841,356 840,349 825,347.5 817.5,351 806,360 795,366 785,375 772.5,380 760,379 752.5,372.5 747.5,362.5 740,361 739,367.5 732.5,375 722.5,384 710,381 695,381 687.5,387.5 690,395 687.5,405 699,412.5 710,420 717.5,430 722.5,437 720,445 719,459 715,474 706,477.5 711,479 715,490 712.5,502.5 710,515 700,517.5 692.5,515 684,520 679,526 687.5,529 691,536 695,546 706,551 712.5,545 716,532.5 724,525 730,519 739,520 744,529 746,542.5 747.5,555 754,557.5 762.5,564 765,561 771,561 772.5,567.5 779,565 787.5,567.5 792.5,576 796,582.5 792.5,595 790,609 799,614 802.5,622.5 800,636 812.5,634 824,630 827.5,621 834,622.5 840,630 840,640 846,651 844,655 842.5,665 850,670 861,675 866,684 875,690 886,696 884,702.5 876,715 871,730 867.5,745 870,757.5 880,761 882.5,770 875.5,776 872,782.5 864,786.5 859.5,792 863,794.5 870,793 878,791 883.5,792 886,800 881.5,805 877,812 872,820 863,824.5 856,830.5 851,838.5 849,847.5 846.5,856 842,867.5 836,874.5 838.5,880 836,885 829.5,879 822.5,881 819,888 815.5,892 811,886 805,882.5 796,880 787.5,882.5 780.5,880 777,874 770.5,880 764.5,885 763,877.5 757.5,871 758.5,865 764.5,859 769,852.5 767,845.5 768,837.5 764.5,830 759.5,825.5 754,819.5 748.5,823 742.5,824.5 739,830 744.5,834 749.5,839.5 744.5,845.5 745,852 739,855.5 732,856 726.5,852 723,845.5 726,840.5 731,836 728.5,830 726,821 724,813 726.5,809.5 732,805 731,799 734.5,793 736.5,788.5 729.5,786.5 722.5,783 716,785 710,787.5 700,789 684,784 671,780 674,767.5 681,756 674,747 675,735 671,720 666,705 664,690 657.5,692 649,701 640,692.5 627.5,696 612.5,690 597.5,699 582.5,701 572.5,707.5 567.5,716 557.5,710 551,695 555,680 547.5,670 540,666 532.5,675 525,675 515,672.5 506,674 501,660 492.5,665 482.5,670 472.5,666 466,671 470,684 460,690 465,699 459,707.5 465,712.5 474,721 469,732.5 457.5,740 451,749 440,753 431,760 426,757 424,746 420,740 410,734 400,732.5 392.5,735 382.5,740 374,746 375,756 370,759 362.5,749 360,750.5 354,753.5 348,756.5 342,760 341,764.5 344.5,769 348,772 352.5,776.5 351,782 349.5,788 345,792.5 339.5,798 335,795.5 331,789.5 328,792.5 327.5,797 330.5,801.5 326,805 320,809 318.5,815.5 322,820.5 321.5,825 317,828 312,827.5 312.5,823.5 309.5,820.5 303.5,821.5 298,818.5 292.5,816.5 289,818 285,820.5 283,818 283.5,814 287.5,812.5 292,809 295,806 294,801.5 293,795.5 296,794 298,791 295,789 296,786.5 300.5,786 300.5,782 296,779 292,776 287.5,773.5 283,769 281.5,763 277,758.5 272.5,754 266.5,749.5 263,746 259,746.5 258,751 259,757 263.5,761.5 267.5,766 272,770 271,775 274,779 272.5,782 269.5,786.5 266.5,792.5 262,797 264.5,801.5 269,807.5 269,810 265,808 261.5,804.5 257,804 251,802 245,803 244,807 240,812 235.5,810 232,806.5 235,803 232,795.5 227,787 229,784 227,776 222,766 218,757 213,748 216,742 209,733 200,728 185,730 170,726 166,719 155,715 142.5,722.5 136,730 127.5,721 116,720 109,707.5 104,695 101,682.5 97.5,670 96,660 94,651 82.5,652.5 62.5,645 52.5,646 41,644 32.5,632.5 37.5,626 35,617.5 25,611 12.5,605 7.5,592.5" fill="none" stroke="#5a4a14" stroke-width="1.1" stroke-linejoin="round"/>
<circle cx="745" cy="61" r="4.8" fill="none" stroke="#2a2010" stroke-width="1.3"/>
<circle cx="952.5" cy="182" r="4.8" fill="none" stroke="#2a2010" stroke-width="1.3"/>
<circle cx="693" cy="226" r="4.8" fill="none" stroke="#2a2010" stroke-width="1.3"/>
<circle cx="748" cy="282" r="4.8" fill="none" stroke="#2a2010" stroke-width="1.3"/>
<circle cx="927" cy="259" r="4.8" fill="none" stroke="#2a2010" stroke-width="1.3"/>
<circle cx="1007.5" cy="255" r="4.8" fill="none" stroke="#2a2010" stroke-width="1.3"/>
<circle cx="686" cy="321" r="4.8" fill="none" stroke="#2a2010" stroke-width="1.3"/>
<circle cx="555" cy="339.5" r="4.8" fill="none" stroke="#2a2010" stroke-width="1.3"/>
<circle cx="455.8" cy="416.5" r="4.8" fill="none" stroke="#2a2010" stroke-width="1.3"/>
<circle cx="605.5" cy="423.5" r="4.8" fill="none" stroke="#2a2010" stroke-width="1.3"/>
<circle cx="624" cy="489.5" r="4.8" fill="none" stroke="#2a2010" stroke-width="1.3"/>
<circle cx="116" cy="449.5" r="4.8" fill="none" stroke="#2a2010" stroke-width="1.3"/>
<circle cx="222" cy="496.5" r="4.8" fill="none" stroke="#2a2010" stroke-width="1.3"/>
<circle cx="171" cy="522.5" r="4.8" fill="none" stroke="#2a2010" stroke-width="1.3"/>
<circle cx="259" cy="522.5" r="4.8" fill="none" stroke="#2a2010" stroke-width="1.3"/>
<circle cx="394" cy="526" r="4.8" fill="none" stroke="#2a2010" stroke-width="1.3"/>
<circle cx="529" cy="518" r="4.8" fill="none" stroke="#2a2010" stroke-width="1.3"/>
<circle cx="470" cy="544" r="4.8" fill="none" stroke="#2a2010" stroke-width="1.3"/>
<circle cx="299" cy="551" r="4.8" fill="none" stroke="#2a2010" stroke-width="1.3"/>
<circle cx="94.5" cy="555.5" r="4.8" fill="none" stroke="#2a2010" stroke-width="1.3"/>
<circle cx="211" cy="581" r="4.8" fill="none" stroke="#2a2010" stroke-width="1.3"/>
<circle cx="262" cy="581" r="4.8" fill="none" stroke="#2a2010" stroke-width="1.3"/>
<circle cx="770" cy="592" r="4.8" fill="none" stroke="#2a2010" stroke-width="1.3"/>
<circle cx="72.5" cy="617.5" r="4.8" fill="none" stroke="#2a2010" stroke-width="1.3"/>
<circle cx="134.5" cy="628" r="4.8" fill="none" stroke="#2a2010" stroke-width="1.3"/>
<circle cx="276" cy="625" r="4.8" fill="none" stroke="#2a2010" stroke-width="1.3"/>
<circle cx="215" cy="646" r="4.8" fill="none" stroke="#2a2010" stroke-width="1.3"/>
<circle cx="544" cy="639.5" r="4.8" fill="none" stroke="#2a2010" stroke-width="1.3"/>
<circle cx="634.5" cy="642.5" r="4.8" fill="none" stroke="#2a2010" stroke-width="1.3"/>
<circle cx="397.5" cy="676" r="4.8" fill="none" stroke="#2a2010" stroke-width="1.3"/>
<circle cx="302.5" cy="705" r="4.8" fill="none" stroke="#2a2010" stroke-width="1.3"/>
<circle cx="364.5" cy="719.5" r="4.8" fill="none" stroke="#2a2010" stroke-width="1.3"/>
<circle cx="766" cy="745" r="4.8" fill="none" stroke="#2a2010" stroke-width="1.3"/>
<circle cx="813" cy="829" r="4.8" fill="none" stroke="#2a2010" stroke-width="1.3"/>
<g font-family="'Liberation Serif','Noto Serif CJK SC',serif" font-size="24.5" fill="#1c1408" text-anchor="middle">
<text x="745" y="87.6">城口</text>
<text x="952.5" y="208.6">巫溪</text>
<text x="693" y="252.6">开州</text>
<text x="748" y="308.6">云阳</text>
<text x="927" y="285.6">奉节</text>
<text x="1007.5" y="281.6">巫山</text>
<text x="686" y="347.6">万州</text>
<text x="555" y="366.1">梁平</text>
<text x="455.8" y="443.1">垫江</text>
<text x="606.5" y="450.1">忠县</text>
<text x="624" y="516.1">石柱</text>
<text x="116" y="476.1">潼南</text>
<text x="222" y="523.1">合川</text>
<text x="171" y="549.1">铜梁</text>
<text x="259" y="549.1">北碚</text>
<text x="394" y="552.6">长寿</text>
<text x="529" y="544.6">丰都</text>
<text x="470" y="570.6">涪陵</text>
<text x="299" y="577.6">渝北</text>
<text x="94.5" y="582.1">大足</text>
<text x="211" y="607.6">璧山</text>
<text x="262.5" y="607.6">沙坪坝</text>
<text x="770" y="618.6">黔江</text>
<text x="72.5" y="644.1">荣昌</text>
<text x="134.5" y="654.6">永川</text>
<text x="276" y="651.6">巴南</text>
<text x="215" y="672.6">江津</text>
<text x="544" y="666.1">武隆</text>
<text x="634.5" y="669.1">彭水</text>
<text x="397.5" y="702.6">南川</text>
<text x="302.5" y="731.6">綦江</text>
<text x="364.5" y="746.1">万盛</text>
<text x="766" y="771.6">酉阳</text>
<text x="813" y="855.6">秀山</text>
</g>
<rect x="954" y="380.3" width="35.2" height="235.5" fill="#FD9932"/>
<rect x="954" y="615.8" width="35.2" height="235.5" fill="#FED430"/>
<rect x="954" y="380.3" width="35.2" height="471" fill="none" stroke="#a8742a" stroke-width=".9"/>
<line x1="954" x2="989.2" y1="615.8" y2="615.8" stroke="#b07820" stroke-width=".9"/>
<g font-family="'DejaVu Sans','Liberation Sans',sans-serif" font-size="28.3" letter-spacing="1.3" fill="#000" stroke="#000" stroke-width=".9">
<text x="999.5" y="392">1.5</text>
<text x="999.5" y="627">1</text>
<text x="998" y="863">0.5</text>
</g>
<text text-anchor="middle" fill="#000"><tspan font-family="'Liberation Serif','Noto Serif CJK SC',serif" font-size="41" font-weight="600" x="119 165 212.5" y="94">重庆市</tspan><tspan font-family="'Noto Sans CJK SC','Liberation Sans',sans-serif" font-size="40" font-weight="400" x="278" y="91">2025</tspan><tspan font-family="'Liberation Serif','Noto Serif CJK SC',serif" font-size="41" font-weight="600" x="348" y="94">年</tspan><tspan font-family="'Noto Sans CJK SC','Liberation Sans',sans-serif" font-size="40" font-weight="400" x="378" y="91">9</tspan><tspan font-family="'Liberation Serif','Noto Serif CJK SC',serif" font-size="41" font-weight="600" x="413" y="94">月</tspan></text>
<text text-anchor="middle" fill="#000"><tspan font-family="'Liberation Serif','Noto Serif CJK SC',serif" font-size="41" font-weight="600" x="73 120.5 167.5 211.5 256 302 349" y="138">平均气温距平（</tspan><tspan font-family="'Liberation Sans','Noto Sans CJK SC',sans-serif" font-size="41" font-weight="400" x="394" y="138">℃</tspan><tspan font-family="'Liberation Serif','Noto Serif CJK SC',serif" font-size="41" font-weight="600" x="440 484.5 530.5" y="138">）预测</tspan></text>
<text text-anchor="middle" fill="#000"><tspan font-family="'Liberation Serif','Noto Serif CJK SC',serif" font-size="40" font-weight="300" x="100" y="966">图</tspan><tspan font-family="'Noto Sans CJK SC','Liberation Sans',sans-serif" font-size="20" font-weight="300" x="125" y="965"> </tspan><tspan font-family="'Noto Sans CJK SC','Liberation Sans',sans-serif" font-size="41.3" font-weight="300" x="146.5" y="965">1</tspan><tspan font-family="'Noto Sans CJK SC','Liberation Sans',sans-serif" font-size="20" font-weight="300" x="185" y="965"> </tspan><tspan font-family="'Liberation Serif','Noto Serif CJK SC',serif" font-size="40" font-weight="300" x="227.5 270.75 317" y="966">重庆市</tspan><tspan font-family="'Noto Sans CJK SC','Liberation Sans',sans-serif" font-size="20" font-weight="300" x="343" y="965"> </tspan><tspan font-family="'Noto Sans CJK SC','Liberation Sans',sans-serif" font-size="41.3" font-weight="300" x="393.5" y="965">2025</tspan><tspan font-family="'Noto Sans CJK SC','Liberation Sans',sans-serif" font-size="20" font-weight="300" x="443" y="965"> </tspan><tspan font-family="'Liberation Serif','Noto Serif CJK SC',serif" font-size="40" font-weight="300" x="469.5" y="966">年</tspan><tspan font-family="'Noto Sans CJK SC','Liberation Sans',sans-serif" font-size="20" font-weight="300" x="497" y="965"> </tspan><tspan font-family="'Noto Sans CJK SC','Liberation Sans',sans-serif" font-size="41.3" font-weight="300" x="513" y="965">9</tspan><tspan font-family="'Noto Sans CJK SC','Liberation Sans',sans-serif" font-size="20" font-weight="300" x="530" y="965"> </tspan><tspan font-family="'Liberation Serif','Noto Serif CJK SC',serif" font-size="40" font-weight="300" x="552.5 600 646 690 735 778.5 823" y="966">月平均气温距平</tspan><tspan font-family="'Noto Sans CJK SC','Liberation Sans',sans-serif" font-size="36" font-weight="300" x="851.5" y="962">(</tspan><tspan font-family="'Liberation Sans','Noto Sans CJK SC',sans-serif" font-size="40" font-weight="300" x="882" y="967">℃</tspan><tspan font-family="'Noto Sans CJK SC','Liberation Sans',sans-serif" font-size="36" font-weight="300" x="910.5" y="962">)</tspan><tspan font-family="'Liberation Serif','Noto Serif CJK SC',serif" font-size="40" font-weight="300" x="938.5 982.5" y="966">预测</tspan></text>
</svg>


</body></html>
